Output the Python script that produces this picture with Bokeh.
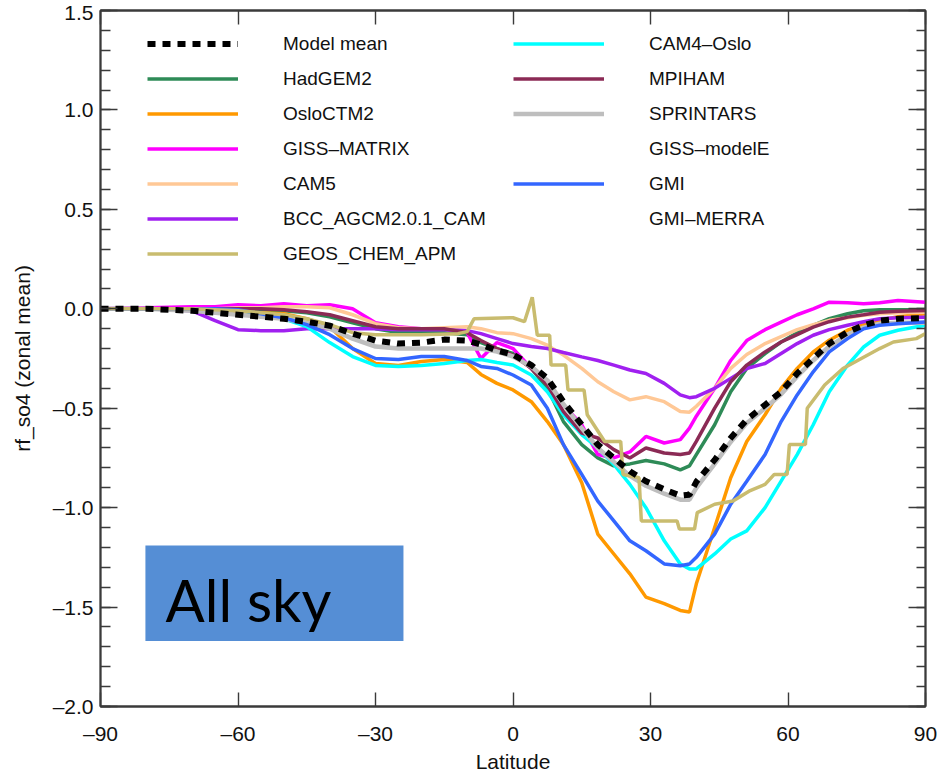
from bokeh.plotting import figure
from bokeh.models import (LinearAxis, FixedTicker, Legend, LegendItem,
                          BoxAnnotation, Label, Range1d)
from bokeh.embed import file_html
from bokeh.resources import INLINE

# ---------------- data ----------------
LAT = [-90, -80, -70, -65, -60, -55, -50, -45, -40, -35, -30, -25, -20, -15, -10, -7, -3.5,
       0, 4, 7.5, 11, 15, 18.5, 22, 25.5, 29, 33, 36.5, 38.5, 40, 44, 47.5, 51, 55, 58.5,
       62, 65.5, 69, 73, 76.5, 80, 84, 90]

model_mean = [0, 0, -0.01, -0.02, -0.03, -0.04, -0.05, -0.065, -0.085, -0.125, -0.16, -0.175, -0.17, -0.155, -0.16, -0.18, -0.21,
              -0.23, -0.283, -0.35, -0.467, -0.583, -0.683, -0.75, -0.817, -0.867, -0.908, -0.94, -0.935, -0.87, -0.76, -0.65,
              -0.558, -0.483, -0.417, -0.325, -0.25, -0.175, -0.117, -0.083, -0.06, -0.05, -0.047]
hadgem2 = [0, 0, 0, 0, 0, -0.005, -0.01, -0.02, -0.04, -0.07, -0.1, -0.12, -0.12, -0.12, -0.13, -0.17, -0.2,
           -0.225, -0.3, -0.4, -0.567, -0.683, -0.75, -0.79, -0.78, -0.763, -0.78, -0.81, -0.79, -0.733, -0.583, -0.417,
           -0.3, -0.225, -0.167, -0.12, -0.083, -0.05, -0.025, -0.01, -0.005, -0.005, -0.005]
osloctm2 = [0, 0, -0.005, -0.01, -0.015, -0.02, -0.025, -0.05, -0.09, -0.2, -0.275, -0.285, -0.265, -0.255, -0.27, -0.33, -0.375,
            -0.408, -0.467, -0.567, -0.683, -0.875, -1.133, -1.233, -1.333, -1.45, -1.483, -1.517, -1.525, -1.383, -1.1, -0.85,
            -0.667, -0.533, -0.4, -0.3, -0.217, -0.158, -0.108, -0.08, -0.058, -0.04, -0.025]
giss_matrix = [0, 0.005, 0.01, 0.01, 0.02, 0.015, 0.025, 0.015, 0.02, 0.0, -0.07, -0.09, -0.1, -0.1, -0.12, -0.25, -0.17,
               -0.2, -0.3, -0.375, -0.483, -0.583, -0.733, -0.75, -0.72, -0.642, -0.675, -0.658, -0.6, -0.54, -0.4, -0.26,
               -0.16, -0.105, -0.067, -0.03, 0.0, 0.033, 0.03, 0.025, 0.03, 0.042, 0.033]
cam5 = [0, 0, 0, 0, 0.005, 0.005, 0.01, 0.01, 0.005, -0.03, -0.075, -0.095, -0.1, -0.095, -0.09, -0.1, -0.12,
        -0.125, -0.15, -0.183, -0.233, -0.3, -0.367, -0.417, -0.458, -0.442, -0.467, -0.517, -0.52, -0.49, -0.4, -0.3,
        -0.23, -0.175, -0.14, -0.105, -0.08, -0.058, -0.045, -0.033, -0.025, -0.02, -0.017]
bcc = [0, 0, -0.01, -0.06, -0.105, -0.11, -0.11, -0.1, -0.1, -0.1, -0.1, -0.105, -0.105, -0.105, -0.11, -0.125, -0.15,
       -0.175, -0.19, -0.2, -0.22, -0.242, -0.26, -0.283, -0.308, -0.325, -0.375, -0.433, -0.447, -0.442, -0.4, -0.35,
       -0.3, -0.275, -0.225, -0.175, -0.133, -0.105, -0.083, -0.065, -0.05, -0.045, -0.042]
cam4_oslo = [0, 0, 0, 0, -0.005, -0.03, -0.05, -0.09, -0.17, -0.24, -0.285, -0.29, -0.285, -0.275, -0.26, -0.255, -0.27,
             -0.283, -0.333, -0.417, -0.533, -0.633, -0.7, -0.783, -0.883, -1.0, -1.167, -1.283, -1.308, -1.308, -1.233, -1.158,
             -1.117, -1.0, -0.867, -0.733, -0.583, -0.417, -0.283, -0.192, -0.133, -0.108, -0.083]
mpiham = [0, 0, 0, 0, 0, 0, -0.005, -0.015, -0.03, -0.06, -0.09, -0.1, -0.1, -0.1, -0.12, -0.16, -0.2,
          -0.233, -0.3, -0.383, -0.517, -0.625, -0.65, -0.708, -0.75, -0.7, -0.725, -0.733, -0.725, -0.667, -0.5, -0.367,
          -0.283, -0.217, -0.167, -0.13, -0.092, -0.065, -0.042, -0.03, -0.017, -0.012, -0.008]
sprintars = [0, 0, -0.01, -0.02, -0.03, -0.04, -0.05, -0.07, -0.1, -0.15, -0.19, -0.2, -0.2, -0.2, -0.2, -0.2, -0.215,
             -0.24, -0.29, -0.36, -0.48, -0.6, -0.7, -0.77, -0.84, -0.89, -0.93, -0.96, -0.96, -0.9, -0.78, -0.67,
             -0.575, -0.5, -0.43, -0.34, -0.26, -0.19, -0.13, -0.095, -0.075, -0.07, -0.07]
gmi = [0, 0, 0, 0, -0.005, -0.025, -0.045, -0.08, -0.13, -0.2, -0.25, -0.255, -0.24, -0.24, -0.26, -0.29, -0.3,
       -0.333, -0.383, -0.5, -0.683, -0.833, -0.967, -1.067, -1.167, -1.217, -1.283, -1.292, -1.283, -1.25, -1.133, -0.983,
       -0.867, -0.733, -0.567, -0.433, -0.317, -0.217, -0.15, -0.1, -0.083, -0.075, -0.067]

# GEOS_CHEM_APM on its own (coarse, stepped) latitude grid
geos_lat = [-90, -70, -60, -50, -45, -40, -35, -30, -20, -12, -10, -8.5, 0, 2.5, 4.2, 5.3, 8, 8.3, 11.5, 12,
            15.5, 16.2, 20, 23.5, 24, 27.5, 28, 35.8, 36.3, 39.6, 40.2, 44, 48, 51.5, 55, 57, 59.8, 60.3,
            63.8, 64.2, 68, 72, 76, 80, 83, 88, 90]
geos_chem_apm = [0, 0, -0.01, -0.03, -0.05, -0.08, -0.12, -0.13, -0.13, -0.125, -0.115, -0.05, -0.045, -0.065, 0.058, -0.133,
                 -0.133, -0.283, -0.283, -0.408, -0.408, -0.533, -0.667, -0.667, -0.833, -0.85, -1.067, -1.067, -1.108,
                 -1.108, -1.025, -0.983, -0.967, -0.917, -0.883, -0.833, -0.833, -0.683, -0.683, -0.5, -0.383, -0.3,
                 -0.25, -0.2, -0.167, -0.15, -0.125]

# series shown only in the legend (no curve visible in the picture)
giss_modelE = []
gmi_merra = []

X_TICKS = [-90, -60, -30, 0, 30, 60, 90]
X_LABELS = ["\u201390", "\u201360", "\u201330", "0", "30", "60", "90"]
Y_TICKS = [-2.0, -1.5, -1.0, -0.5, 0.0, 0.5, 1.0, 1.5]
Y_LABELS = ["\u20132.0", "\u20131.5", "\u20131.0", "\u20130.5", "0.0", "0.5", "1.0", "1.5"]
Y_MINOR = [round(-2.0 + 0.1 * i, 1) for i in range(36)]

# ---------------- figure ----------------
FONT = "Liberation Sans"
AX_COLOR = "#3a3a3a"
p = figure(width=939, height=775,
           x_range=Range1d(-90, 90), y_range=Range1d(-2.0, 1.5),
           output_backend="svg", toolbar_location=None,
           min_border_left=100, min_border_top=10, min_border_right=14, min_border_bottom=65)
p.xgrid.visible = False
p.ygrid.visible = False
p.outline_line_color = AX_COLOR
p.outline_line_width = 1.8
p.background_fill_color = "white"
p.border_fill_color = "white"


def style(ax, ticks, labels, minor, tick_in, minor_in, show):
    ax.ticker = FixedTicker(ticks=ticks, minor_ticks=minor)
    ax.axis_line_color = AX_COLOR
    ax.axis_line_width = 1.8
    ax.major_tick_line_color = AX_COLOR
    ax.minor_tick_line_color = AX_COLOR
    ax.major_tick_line_width = 1.4
    ax.minor_tick_line_width = 1.3
    ax.major_tick_in = tick_in
    ax.major_tick_out = 0
    ax.minor_tick_in = minor_in
    ax.minor_tick_out = 0
    if show:
        ax.major_label_overrides = dict(zip(ticks, labels))
        ax.major_label_text_font = FONT
        ax.major_label_text_font_size = "21px"
        ax.major_label_text_color = "#111111"
    else:
        ax.major_label_overrides = {t: "" for t in ticks}
        ax.major_label_text_font_size = "1px"
        ax.major_label_text_alpha = 0
        ax.major_label_standoff = 0


xb = p.xaxis[0]
style(xb, X_TICKS, X_LABELS, [], 14, 0, True)
xb.major_label_standoff = 15
xb.axis_label = "Latitude"
xb.axis_label_text_font = FONT
xb.axis_label_text_font_size = "21px"
xb.axis_label_text_font_style = "normal"
xb.axis_label_text_color = "#111111"
xb.axis_label_standoff = 2

yl = p.yaxis[0]
style(yl, Y_TICKS, Y_LABELS, Y_MINOR, 17, 10, True)
yl.major_label_standoff = 7
yl.axis_label = "rf_so4 (zonal mean)"
yl.axis_label_text_font = FONT
yl.axis_label_text_font_size = "21px"
yl.axis_label_text_font_style = "normal"
yl.axis_label_text_color = "#111111"
yl.axis_label_standoff = 16

xt = LinearAxis()
style(xt, X_TICKS, X_LABELS, [], 14, 0, False)
p.add_layout(xt, "above")
yr = LinearAxis()
style(yr, Y_TICKS, Y_LABELS, Y_MINOR, 17, 9, False)
p.add_layout(yr, "right")

# ---------------- curves ----------------
W = 3.5
r_had = p.line(LAT, hadgem2, line_color="#2E8B57", line_width=W)
r_oslo = p.line(LAT, osloctm2, line_color="#FF9900", line_width=W)
r_gmat = p.line(LAT, giss_matrix, line_color="#FF00FF", line_width=W)
r_cam5 = p.line(LAT, cam5, line_color="#FFC896", line_width=W)
r_bcc = p.line(LAT, bcc, line_color="#A020F0", line_width=W)
r_cam4 = p.line(LAT, cam4_oslo, line_color="#00FFFF", line_width=W)
r_mpi = p.line(LAT, mpiham, line_color="#8B2A55", line_width=W)
r_spr = p.line(LAT, sprintars, line_color="#BEBEBE", line_width=W + 1)
r_gme = p.line(giss_modelE, giss_modelE, line_color="#FF00FF", line_width=W, line_dash="9 7")
r_gmi = p.line(LAT, gmi, line_color="#3366FF", line_width=W)
r_gmim = p.line(gmi_merra, gmi_merra, line_color="#3366FF", line_width=W, line_dash="9 7")
r_geos = p.line(geos_lat, geos_chem_apm, line_color="#C9BC6F", line_width=W)
r_mean = p.line(LAT, model_mean, line_color="black", line_width=6, line_dash="8 7")

# ---------------- legends ----------------
def make_legend(items, loc):
    lg = Legend(items=[LegendItem(label=l, renderers=[r]) for l, r in items], location=loc)
    lg.orientation = "vertical"
    lg.background_fill_alpha = 0
    lg.border_line_alpha = 0
    lg.padding = 0
    lg.margin = 0
    lg.spacing = 0
    lg.glyph_width = 91
    lg.glyph_height = 35
    lg.label_height = 35
    lg.label_standoff = 45
    lg.label_text_font = FONT
    lg.label_text_font_size = "19px"
    lg.label_text_color = "#111111"
    lg.label_text_baseline = "alphabetic"
    return lg


leg1 = make_legend([("Model mean", r_mean), ("HadGEM2", r_had), ("OsloCTM2", r_oslo),
                    ("GISS\u2013MATRIX", r_gmat), ("CAM5", r_cam5),
                    ("BCC_AGCM2.0.1_CAM", r_bcc), ("GEOS_CHEM_APM", r_geos)], (47, 435))
leg2 = make_legend([("CAM4\u2013Oslo", r_cam4), ("MPIHAM", r_mpi), ("SPRINTARS", r_spr),
                    ("GISS\u2013modelE", r_gme), ("GMI", r_gmi), ("GMI\u2013MERRA", r_gmim)], (413, 470))
p.add_layout(leg1, "center")
p.add_layout(leg2, "center")

# ---------------- "All sky" box ----------------
p.add_layout(BoxAnnotation(left=-80.2, right=-23.9, top=-1.19, bottom=-1.67,
                           fill_color="#558ED5", fill_alpha=1.0, line_color=None, level="overlay"))
p.add_layout(Label(x=-75.8, y=-1.46, text="All sky", text_font="Lato", text_font_size="58px",
                   text_color="black", text_baseline="alphabetic", level="overlay"))

open("out.html", "w").write(file_html(p, INLINE))
